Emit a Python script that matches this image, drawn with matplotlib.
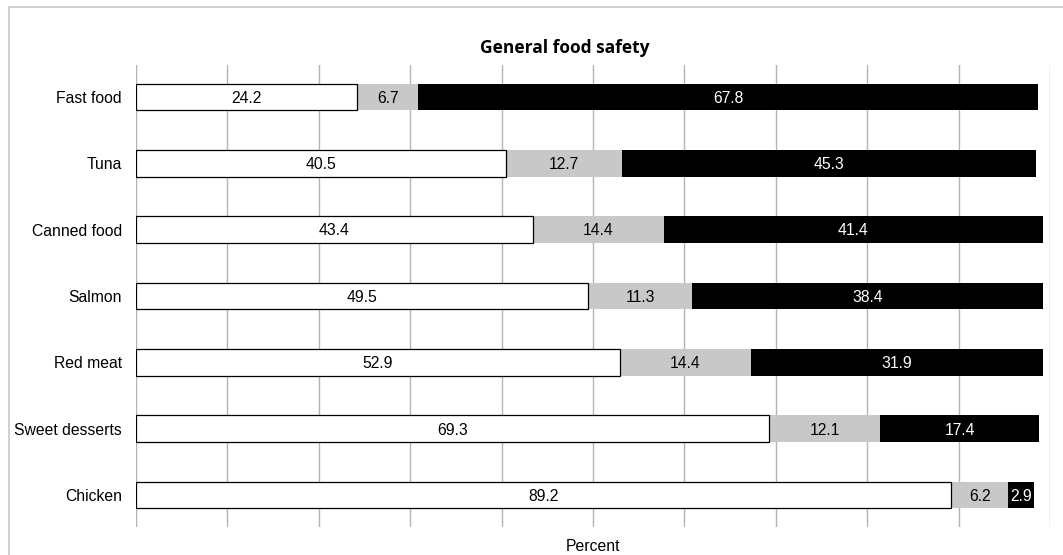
import numpy as np
import matplotlib.pyplot as plt
from matplotlib.patches import Rectangle

categories = ["Fast food", "Tuna", "Canned food", "Salmon", "Red meat",
              "Sweet desserts", "Chicken"]
safe = [24.2, 40.5, 43.4, 49.5, 52.9, 69.3, 89.2]
neutral = [6.7, 12.7, 14.4, 11.3, 14.4, 12.1, 6.2]
unsafe = [67.8, 45.3, 41.4, 38.4, 31.9, 17.4, 2.9]

plt.rcParams['font.family'] = ['Liberation Sans', 'DejaVu Sans']

fig = plt.figure(figsize=(10.63, 5.55), dpi=100)
ax = fig.add_axes([136 / 1063, 1 - 527 / 555, 914 / 1063, 462 / 555])

# outer frame of the chart area
fig.patches.append(Rectangle((9 / 1063, -0.1), 1.2, 1 - 7 / 555 + 0.1,
                             transform=fig.transFigure, fill=False,
                             edgecolor="#c8c8c8", linewidth=1.2))

y = np.arange(len(categories))
h = 0.4
safe = np.array(safe)
neutral = np.array(neutral)
unsafe = np.array(unsafe)

ax.barh(y, safe, height=h, color="white", edgecolor="none", zorder=3)
ax.barh(y, neutral, left=safe, height=h, color="#c8c8c8", edgecolor="none", zorder=3)
ax.barh(y, unsafe, left=safe + neutral, height=h, color="black", edgecolor="none", zorder=3)
# outline of white bars on top
ax.barh(y, safe, height=h, color="none", edgecolor="black", linewidth=0.9, zorder=4)

fs = 11.3
for i in range(len(categories)):
    ax.text(safe[i] / 2, y[i] + 0.02, f"{safe[i]:.1f}", ha="center", va="center",
            fontsize=fs, color="black", zorder=5)
    ax.text(safe[i] + neutral[i] / 2, y[i] + 0.02, f"{neutral[i]:.1f}", ha="center",
            va="center", fontsize=fs, color="black", zorder=5)
    ax.text(safe[i] + neutral[i] + unsafe[i] / 2, y[i] + 0.02, f"{unsafe[i]:.1f}",
            ha="center", va="center", fontsize=fs, color="white", zorder=5)

ax.set_xlim(0, 100)
ax.set_ylim(6.48, -0.48)
ax.set_xticks(np.arange(0, 101, 10))
ax.set_xticklabels([])
ax.tick_params(axis="x", length=0)
ax.tick_params(axis="y", length=0, labelsize=fs, pad=10)
ax.set_yticks(y)
ax.set_yticklabels(categories)
ax.grid(axis="x", color="#b4b4b4", linewidth=1.0, zorder=0)
for s in ax.spines.values():
    s.set_visible(False)

ax.set_xlabel("Percent", fontsize=fs, labelpad=5)
fig.text(565 / 1063, 1 - 48 / 555, "General food safety", ha="center",
         va="center", fontsize=12.5, fontweight="bold",
         family=["Open Sans", "DejaVu Sans"])

fig.savefig("out.png", dpi=100)
